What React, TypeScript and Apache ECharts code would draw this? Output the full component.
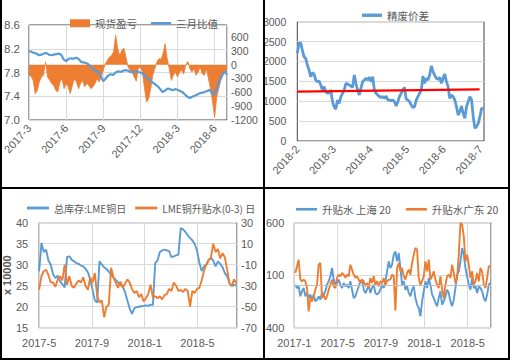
import React, { useEffect, useRef } from "react";
import * as echarts from "echarts";

const BLUE = "#5B9BD5";
const ORANGE = "#ED7D31";
const RED = "#FF0000";
const TXT = "#595959";
const GRIDC = "#D9D9D9";
const FONT = "'Liberation Sans Narrow', 'Liberation Sans', Arial, sans-serif";
const FONT_R = "'Liberation Sans', Arial, sans-serif";
const CJK = "'Noto Sans CJK SC', 'Liberation Sans', sans-serif";

// ---------- Panel 1: 现货盈亏 (columns, right axis) / 三月比值 (line, left axis) ----------
const P1_TICKS = ["2017-3", "2017-6", "2017-9", "2017-12", "2018-3", "2018-6"];
const P1_RATIO_STEP = 0.2; // months between samples, from 2017-3
const ratio3m = [
  8.16, 8.15, 8.13, 8.12, 8.09, 8.1, 8.12, 8.13, 8.1, 8.09,
  8.1, 8.11, 8.12, 8.1, 8.02, 7.99, 8.03, 8.04, 8.03, 8.05,
  8.03, 7.98, 7.97, 7.96, 7.94, 7.89, 7.86, 7.82, 7.81, 7.74,
  7.65, 7.7, 7.75, 7.77, 7.76, 7.8, 7.82, 7.81, 7.83, 7.84,
  7.83, 7.81, 7.8, 7.82, 7.81, 7.8, 7.78, 7.74, 7.7, 7.67,
  7.63, 7.6, 7.57, 7.52, 7.47, 7.5, 7.53, 7.52, 7.5, 7.52,
  7.51, 7.49, 7.47, 7.43, 7.39, 7.37, 7.39, 7.41, 7.43, 7.45,
  7.46, 7.47, 7.49, 7.51, 7.45, 7.43, 7.55, 7.66, 7.75, 7.82,
  7.76,
];
const P1_PNL_STEP = 1 / 6;
const spotPnl = [
  -230, -250, -340, -630, -560, -376, -270, -230, 60, -270,
  -340, -410, -450, -560, -590, -376, -300, -520, -410, -480,
  -630, -450, -300, -376, -520, -410, -340, -480, -410, -450,
  -520, -480, -410, -300, -376, -270, -120, 20, 95, 165,
  200, 275, 640, 350, 200, 310, 360, 165, -50, -120,
  -160, -270, -360, -90, -50, -160, -520, -810, -740, -520,
  -230, -90, 60, 130, 115, 240, 455, 130, -90, -340,
  -230, -160, -270, -160, -120, -200, -15, 70, -90, -160,
  -90, -230, -160, -50, -200, -230, -90, -300, -520, -810,
  -1140, -700, -520, -340, -200, -120, -160,
];

// ---------- Panel 2: 精废价差 ----------
const P2_TICKS = ["2018-2", "2018-3", "2018-4", "2018-5", "2018-6", "2018-7"];
const P2_SPAN = 5.08; // months covered by the samples, from 2018-2
const scrapSpread = [
  2204, 2455, 2472, 2288, 2120, 2078, 1910, 1785, 1617, 1718,
  1684, 1534, 1492, 1508, 1408, 1282, 1366, 1240, 1198, 1215,
  1282, 989, 863, 796, 1030, 947, 1115, 1198, 1282, 1450,
  1433, 1408, 1383, 1349, 1660, 1450, 1282, 1157, 1324, 1492,
  1534, 1575, 1534, 1601, 1492, 1618, 1282, 1198, 1157, 1115,
  1098, 1115, 1073, 1131, 1031, 1031, 1014, 1031, 989, 880,
  989, 1115, 1198, 1282, 1349, 1048, 1031, 989, 905, 846,
  863, 1031, 1115, 1198, 1282, 1634, 1450, 1575, 1534, 1659,
  1886, 1743, 1659, 1575, 1550, 1601, 1450, 1575, 1684, 1492,
  1366, 1073, 1156, 1115, 1031, 863, 654, 737, 880, 695,
  570, 863, 989, 1115, 1031, 612, 318, 360, 444, 612,
  821, 821,
];
const trendEnds = [1240, 1299]; // linear trend line, first and last month
const trendMonths = [0, 4.98];

// ---------- Panel 3: 总库存:LME铜日 (x10000) / LME铜升贴水(0-3) 日 ----------
const P3_TICKS = ["2017-5", "2017-9", "2018-1", "2018-5"];
const P3_STEP = 0.176; // months between samples, from 2017-5
const lmeStock = [
  28.4, 35.2, 33.0, 33.6, 31.0, 30.0, 27.8, 26.8, 27.4, 26.0,
  25.4, 24.6, 31.8, 32.0, 31.2, 30.8, 30.4, 30.2, 29.8, 29.6,
  29.0, 28.2, 26.5, 24.0, 21.5, 21.0, 30.8, 30.0, 29.4, 29.0,
  28.4, 27.6, 27.0, 26.4, 25.8, 25.2, 24.8, 23.5, 21.5, 19.6,
  18.3, 19.6, 19.9, 20.0, 20.1, 20.2, 20.3, 20.2, 20.5, 20.4,
  30.4, 31.0, 33.0, 33.4, 33.6, 33.4, 33.2, 31.8, 32.0, 32.2,
  32.4, 38.7, 38.4, 37.8, 37.0, 36.4, 35.8, 35.0, 33.4, 30.5,
  28.5, 29.6, 30.0, 31.2, 31.6, 31.0, 29.6, 30.8, 30.2, 29.4,
  28.0, 27.2, 25.6, 24.9, 25.2, 25.0,
];
const lmeSpread = [
  -34, -21, -16, -15, -20, -27, -27, -31, -24, -21,
  -25, -10, -29, -21, -30, -32, -28, -25, -27, -22,
  -30, -34, -22, -27, -18, -40, -46, -44, -60, -50,
  -48, -13, -22, -27, -32, -26, -32, -28, -24, -27,
  -33, -37, -35, -41, -38, -45, -42, -38, -29, -41,
  -40, -42, -40, -43, -39, -38, -33, -35, -27, -30,
  -35, -34, -36, -33, -35, -50, -35, -37, -33, -32,
  -25, -16, -10, -6, -3, 10, 2, 5, -4, 1,
  -3, -15, -28, -30, -24, -28,
];

// ---------- Panel 4: 升贴水 上海 20 / 升贴水广东 20 ----------
const P4_TICKS = ["2017-1", "2017-5", "2017-9", "2018-1", "2018-5"];
const P4_START = 0.095;
const P4_STEP = 0.1539;
const shPremium = [
  10, -22, -6, -101, -53, -22, -101, -69, -117, -85,
  -133, -85, -149, -133, -101, -133, -69, -85, -53, 10,
  42, 90, 169, 58, 10, 26, 58, 10, -22, 26,
  -6, 10, -22, 42, -38, -117, -101, -53, -6, 42,
  58, -38, -69, -38, 10, -69, -22, 10, -69, -85,
  -69, -38, 10, -22, 42, 137, 232, 169, 200, 296,
  327, 232, 311, 169, 10, 42, -38, -6, -69, -101,
  -38, -6, -117, -180, -212, -291, -149, -53, 42, -22,
  74, 10, -85, -117, -164, -196, -117, -53, -180, -149,
  -101, -38, -69, -149, -196, -133, -22, 105, 137, 232,
  359, 296, 169, 90, 10, -38, 74, -22, -6, -69,
  -6, -22, -53, -117, -149, -85, 10, 26,
];
const gdPremium = [
  121, 185, 248, 58, 42, 58, 42, -22, -244, -117,
  -149, -101, -38, 10, 200, 216, -117, -85, -133, -101,
  -38, 10, 58, -6, -22, 74, 105, 90, 121, 105,
  74, 105, 90, 200, 153, 105, 74, 90, 58, 26,
  58, 42, -6, 26, -22, 74, 26, 90, 10, 42,
  -6, 42, 26, 74, 10, 42, 58, 58, 105, 90,
  -237, 169, 216, 137, 169, 90, 58, 121, 153, 105,
  216, 296, 359, 343, 74, 10, 42, 90, 232, 137,
  248, 58, 90, 137, 58, 10, -22, 90, -38, -117,
  10, 90, 105, 74, 200, 121, 26, 74, 296, 597,
  581, 470, 232, 296, 200, 74, 137, 10, 42, 121,
  42, 169, 137, 10, -22, 74, 185, 185,
];

const tickFmt = (labels: string[], interval: number) => (v: number) => {
  const k = Math.round(v / interval);
  if (Math.abs(v - k * interval) > 1e-6) return "";
  return labels[k] ?? "";
};

const LINE_ICON = "path://M0,0H24V3H0Z";
const THICK_LINE_ICON = "path://M0,0H20V3.4H0Z";
const labelStyle = { color: TXT, fontFamily: FONT, fontSize: 10.5 };
const rotLabelStyle = { color: TXT, fontFamily: FONT_R, fontSize: 11 };
const legendText = { color: TXT, fontFamily: CJK, fontSize: 10.5 };
const hidden = { show: false };
const split = { show: true, lineStyle: { color: GRIDC, width: 1 } };
const gridBox = { show: true, borderColor: "#404040", borderWidth: 1, backgroundColor: "transparent" };
const legendBase = { itemStyle: { borderWidth: 0 }, symbolKeepAspect: true };

export default function App() {
  const ref = useRef<HTMLDivElement>(null);
  useEffect(() => {
    if (!ref.current) return;
    const chart = echarts.init(ref.current, undefined, { renderer: "svg" });
    const frame = (x1: number, y1: number, x2: number, y2: number) => ({
      type: "line",
      shape: { x1, y1, x2, y2 },
      style: { stroke: "#000", lineWidth: 2 },
      silent: true,
      z: 100,
    });
    const option: any = {
      animation: false,
      backgroundColor: "#fff",
      grid: [
        { left: 28.5, top: 25, width: 198.5, height: 95, ...gridBox },
        { left: 297.3, top: 21.7, width: 186.7, height: 119.3, ...gridBox },
        { left: 38.7, top: 222.7, width: 198.3, height: 105, ...gridBox },
        { left: 294.3, top: 222.7, width: 196.7, height: 105, ...gridBox },
      ],
      legend: [
        {
          ...legendBase,
          left: 65, top: 13, itemWidth: 20, itemHeight: 8, itemGap: 14,
          textStyle: legendText,
          data: [{ name: "现货盈亏", icon: "rect" }, { name: "三月比值", icon: LINE_ICON }],
        },
        {
          ...legendBase,
          left: 357, top: 5, itemWidth: 20, itemHeight: 8,
          textStyle: legendText,
          data: [{ name: "精废价差", icon: THICK_LINE_ICON }],
        },
        {
          ...legendBase,
          left: 22, top: 198, itemWidth: 22, itemHeight: 8, itemGap: 9,
          textStyle: { ...legendText, fontSize: 10 },
          data: [
            { name: "总库存:LME铜日", icon: LINE_ICON },
            { name: "LME铜升贴水(0-3) 日", icon: LINE_ICON },
          ],
        },
        {
          ...legendBase,
          left: 291, top: 199, itemWidth: 21, itemHeight: 8, itemGap: 15,
          textStyle: legendText,
          data: [
            { name: "升贴水 上海 20", icon: LINE_ICON },
            { name: "升贴水广东 20", icon: LINE_ICON },
          ],
        },
      ],
      xAxis: [
        {
          gridIndex: 0, type: "value", min: 0, max: 16, interval: 3,
          axisLine: hidden, axisTick: hidden, splitLine: split,
          axisLabel: { ...rotLabelStyle, rotate: 48, margin: 6, formatter: tickFmt(P1_TICKS, 3) },
        },
        {
          gridIndex: 1, type: "value", min: 0, max: 5.1, interval: 1,
          axisLine: hidden, axisTick: hidden, splitLine: hidden,
          axisLabel: { ...rotLabelStyle, rotate: 48, margin: 6, formatter: tickFmt(P2_TICKS, 1) },
        },
        {
          gridIndex: 2, type: "value", min: 0, max: 15, interval: 4,
          axisLine: hidden, axisTick: hidden, splitLine: split,
          axisLabel: { ...labelStyle, fontSize: 11, margin: 10, formatter: tickFmt(P3_TICKS, 4) },
        },
        {
          gridIndex: 3, type: "value", min: 0, max: 18.15, interval: 4,
          axisLine: hidden, axisTick: hidden, splitLine: split,
          axisLabel: { ...labelStyle, fontSize: 11, margin: 10, formatter: tickFmt(P4_TICKS, 4) },
        },
      ],
      yAxis: [
        {
          gridIndex: 0, type: "value", position: "left", min: 7.0, max: 8.6, interval: 0.4,
          axisLine: hidden, axisTick: hidden, splitLine: split,
          axisLabel: { ...labelStyle, fontSize: 11.5, margin: 9, formatter: (v: number) => v.toFixed(1) },
        },
        {
          gridIndex: 0, type: "value", position: "right", min: -1200, max: 860, interval: 300,
          axisLine: hidden, axisTick: hidden, splitLine: hidden,
          axisLabel: {
            ...labelStyle, margin: 4,
            formatter: (v: number) => (Math.abs(v % 300) < 1e-6 ? String(v) : ""),
          },
        },
        {
          gridIndex: 1, type: "value", min: 0, max: 3000, interval: 500,
          axisLine: hidden, axisTick: hidden, splitLine: split,
          axisLabel: { ...labelStyle, margin: 11, formatter: (v: number) => String(v) },
        },
        {
          gridIndex: 2, type: "value", position: "left", min: 15, max: 40, interval: 5,
          axisLine: hidden, axisTick: hidden, splitLine: split,
          axisLabel: { ...labelStyle, fontSize: 11, margin: 11 },
          name: "x 10000", nameLocation: "middle", nameRotate: 90, nameGap: 27,
          nameTextStyle: { color: TXT, fontFamily: FONT, fontSize: 11, fontWeight: "bold" },
        },
        {
          gridIndex: 2, type: "value", position: "right", min: -70, max: 30, interval: 20,
          axisLine: hidden, axisTick: hidden, splitLine: hidden,
          axisLabel: { ...labelStyle, fontSize: 11, margin: 4 },
        },
        {
          gridIndex: 3, type: "value", min: -400, max: 600, interval: 500,
          axisLine: hidden, axisTick: hidden, splitLine: split,
          axisLabel: { ...labelStyle, fontSize: 11, margin: 10 },
        },
      ],
      series: [
        {
          // dense daily columns, drawn as a filled profile from the zero line
          name: "现货盈亏", type: "line", xAxisIndex: 0, yAxisIndex: 1, symbol: "none",
          lineStyle: { color: ORANGE, width: 0.8 }, itemStyle: { color: ORANGE },
          areaStyle: { color: ORANGE, opacity: 1, origin: 0 },
          data: spotPnl.map((v, i) => [i * P1_PNL_STEP, v]),
        },
        {
          name: "三月比值", type: "line", xAxisIndex: 0, yAxisIndex: 0, symbol: "none",
          lineStyle: { color: BLUE, width: 2.2 }, itemStyle: { color: BLUE },
          data: ratio3m.map((v, i) => [i * P1_RATIO_STEP, v]),
        },
        {
          name: "精废价差", type: "line", xAxisIndex: 1, yAxisIndex: 2, symbol: "none",
          lineStyle: { color: BLUE, width: 2.8 }, itemStyle: { color: BLUE },
          data: scrapSpread.map((v, i) => [(i * P2_SPAN) / (scrapSpread.length - 1), v]),
        },
        {
          name: "趋势线", type: "line", xAxisIndex: 1, yAxisIndex: 2, symbol: "none",
          lineStyle: { color: RED, width: 2.2 }, itemStyle: { color: RED },
          data: trendEnds.map((v, i) => [trendMonths[i], v]),
        },
        {
          name: "总库存:LME铜日", type: "line", xAxisIndex: 2, yAxisIndex: 3, symbol: "none",
          lineStyle: { color: BLUE, width: 1.9 }, itemStyle: { color: BLUE },
          data: lmeStock.map((v, i) => [i * P3_STEP, v]),
        },
        {
          name: "LME铜升贴水(0-3) 日", type: "line", xAxisIndex: 2, yAxisIndex: 4, symbol: "none",
          lineStyle: { color: ORANGE, width: 1.9 }, itemStyle: { color: ORANGE },
          data: lmeSpread.map((v, i) => [i * P3_STEP, v]),
        },
        {
          name: "升贴水 上海 20", type: "line", xAxisIndex: 3, yAxisIndex: 5, symbol: "none",
          lineStyle: { color: BLUE, width: 1.9 }, itemStyle: { color: BLUE },
          data: shPremium.map((v, i) => [P4_START + i * P4_STEP, v]),
          markLine: {
            silent: true, symbol: ["none", "none"], label: { show: false },
            lineStyle: { color: "#BFBFBF", width: 1, type: "solid" },
            data: [{ yAxis: 0 }],
          },
        },
        {
          name: "升贴水广东 20", type: "line", xAxisIndex: 3, yAxisIndex: 5, symbol: "none",
          lineStyle: { color: ORANGE, width: 1.9 }, itemStyle: { color: ORANGE },
          data: gdPremium.map((v, i) => [P4_START + i * P4_STEP, v]),
        },
      ],
      graphic: [
        frame(1, 0, 1, 360),
        frame(509, 0, 509, 360),
        frame(0, 359, 510, 359),
        frame(264, 0, 264, 360),
        frame(0, 188, 510, 188),
      ],
    };
    chart.setOption(option);
    return () => chart.dispose();
  }, []);
  return (
    <div
      ref={ref}
      style={{ position: "absolute", left: 0, top: 0, width: 513, height: 362, background: "#fff" }}
    />
  );
}
